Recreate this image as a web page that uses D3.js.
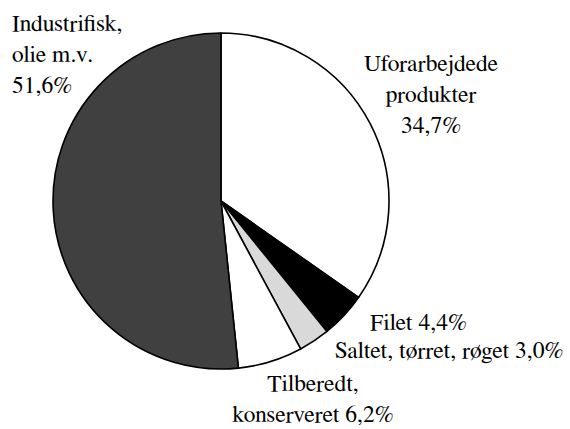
<!DOCTYPE html>
<html>
<head>
<meta charset="utf-8">
<script src="https://cdn.jsdelivr.net/npm/d3@7"></script>
<style>
  body { margin: 0; background: #fff; }
  svg { display: block; }
</style>
</head>
<body>
<div id="chart"></div>
<script>
// data
var categories = ['Uforarbejdede produkter', 'Filet', 'Saltet, tørret, røget', 'Tilberedt, konserveret', 'Industrifisk, olie m.v.'];
var shares = [34.7, 4.4, 3.0, 6.2, 51.6];
var fills = ['#ffffff', '#000000', '#d9d9d9', '#ffffff', '#404040'];
// label lines per slice, with anchor and offset from pie centre
var labelLines = [
    ['Uforarbejdede', 'produkter', '34,7%'],
    ['Filet 4,4%'],
    ['Saltet, tørret, røget 3,0%'],
    ['Tilberedt,', 'konserveret 6,2%'],
    ['Industrifisk,', 'olie m.v.', '51,6%']
];
var labelPos = [
    {x: 210, y: -130, anchor: 'middle'},
    {x: 149, y: 129, anchor: 'start'},
    {x: 114, y: 157, anchor: 'start'},
    {x: 92, y: 190, anchor: 'middle'},
    {x: -209, y: -170, anchor: 'start'}
];

var width = 570,
    height = 429,
    cx = 221,
    cy = 201,
    radius = 168,
    lineHeight = 31;

var svg = d3.select('#chart').append('svg')
    .attr('width', width)
    .attr('height', height);

var g = svg.append('g')
    .attr('transform', 'translate(' + cx + ',' + cy + ')');

var pie = d3.pie().sort(null).value(function(d) { return d; });
var arc = d3.arc().innerRadius(0).outerRadius(radius);

g.selectAll('path.slice')
    .data(pie(shares))
    .enter().append('path')
    .attr('class', 'slice')
    .attr('d', arc)
    .attr('fill', function(d, i) { return fills[i]; })
    .attr('stroke', '#000')
    .attr('stroke-width', 1.6)
    .attr('stroke-linejoin', 'round');

// labels
var labels = g.selectAll('text.label')
    .data(categories)
    .enter().append('text')
    .attr('class', 'label')
    .style('font-family', "'FreeSerif', 'Liberation Serif', serif")
    .style('font-size', '23.6px')
    .attr('fill', '#000')
    .attr('x', function(d, i) { return labelPos[i].x; })
    .attr('y', function(d, i) { return labelPos[i].y; })
    .attr('text-anchor', function(d, i) { return labelPos[i].anchor; });

labels.each(function(d, i) {
    var t = d3.select(this);
    labelLines[i].forEach(function(line, j) {
        t.append('tspan')
            .attr('x', labelPos[i].x)
            .attr('dy', j === 0 ? 0 : lineHeight)
            .text(line);
    });
});
</script>
</body>
</html>
